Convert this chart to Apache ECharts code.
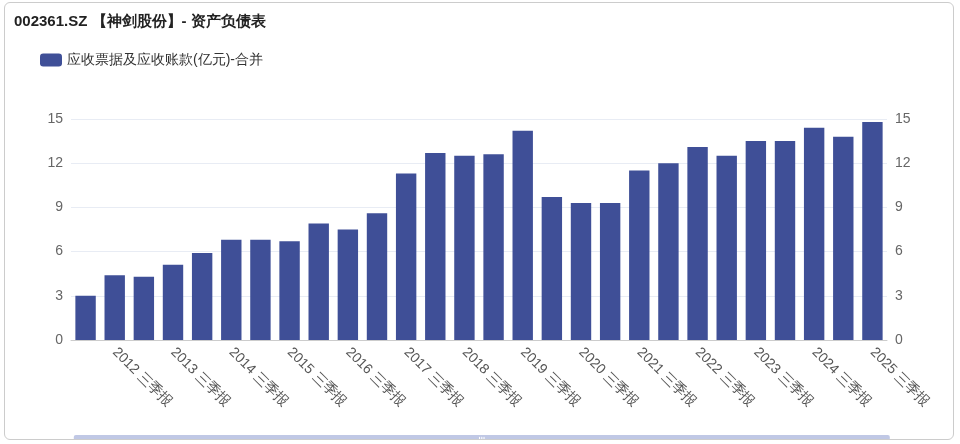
<!DOCTYPE html>
<html><head><meta charset="utf-8">
<script src="https://cdn.jsdelivr.net/npm/echarts@6/dist/echarts.min.js"></script>
<style>body{margin:0;background:#fff}#c{position:absolute;left:4px;top:2px;width:950px;height:438px;border:1px solid #ccc;border-radius:6px;box-sizing:border-box;overflow:hidden}</style>
</head><body><div id="c"></div>
<script>
const categories=[];
for(let y=2011;y<=2024;y++){categories.push(y+' 年报');categories.push((y+1)+' 三季报');}
const values=[3.0,4.4,4.3,5.1,5.9,6.8,6.8,6.7,7.9,7.5,8.6,11.3,12.7,12.5,12.6,14.2,9.7,9.3,9.3,11.5,12.0,13.1,12.5,13.5,13.5,14.4,13.8,14.8];
const seriesName='应收票据及应收账款(亿元)-合并';
const chart=echarts.init(document.getElementById('c'));
const ax={min:0,max:15,interval:3,axisLine:{show:false},axisTick:{show:false},axisLabel:{color:'#666',fontSize:14},splitLine:{lineStyle:{color:'#e8ecf4'}}};
chart.setOption({
 animation:false,
 title:{text:'002361.SZ 【神剑股份】- 资产负债表',left:4,top:6,textStyle:{fontSize:15,fontWeight:'bold',color:'#222'}},
 legend:{left:30,top:45,itemWidth:22,itemHeight:13,textStyle:{fontSize:14,color:'#333'},data:[seriesName]},
 grid:{left:66,right:66,top:116,bottom:99},
 xAxis:{type:'category',data:categories,axisTick:{show:false},axisLine:{lineStyle:{color:'#ccc'}},
   axisLabel:{interval:(i)=>i%2===1,rotate:-45,fontSize:14,color:'#555',margin:10}},
 yAxis:[Object.assign({},ax),Object.assign({},ax)],
 dataZoom:[{type:'slider',bottom:-18,height:22,start:0,end:100,showDetail:false}],
 series:[{name:seriesName,type:'bar',data:values,barWidth:'70%',itemStyle:{color:'#3f4f97'}}]
});
</script></body></html>
